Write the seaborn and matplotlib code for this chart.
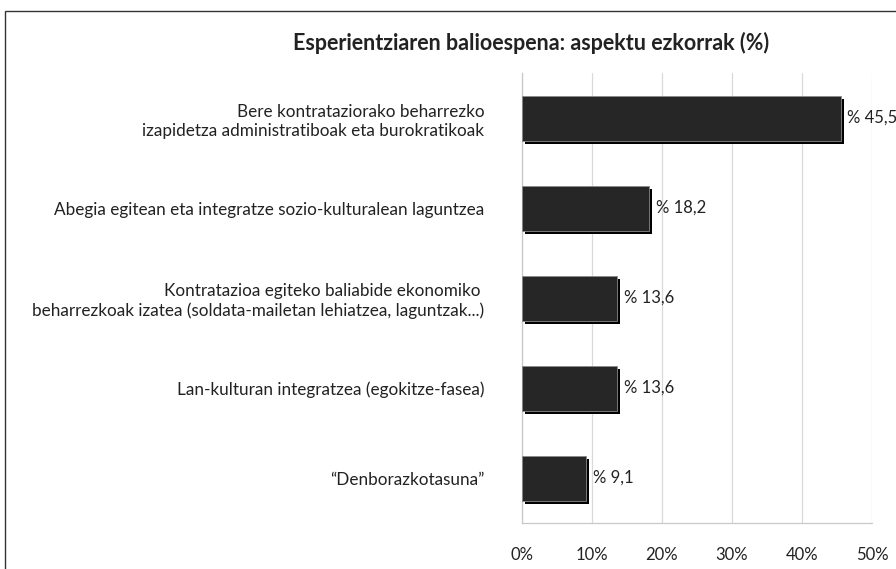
import matplotlib
matplotlib.use("Agg")
import matplotlib.pyplot as plt
import matplotlib.patheffects as pe
from matplotlib.patches import Rectangle
from matplotlib.ticker import FixedLocator, PercentFormatter
import seaborn as sns
import pandas as pd

title = "Esperientziaren balioespena: aspektu ezkorrak (%)"
categories = [
    "Bere kontratazio" "rako beharrezko\nizapidetza administratiboak eta burokratikoak",
    "Abegia egitean eta integratze sozio-kulturalean laguntzea",
    "Kontratazioa egiteko baliabide ekonomiko \nbeharrezkoak izatea (soldata-mailetan lehiatzea, laguntzak...)",
    "Lan-kulturan integratzea (egokitze-fasea)",
    "\u201cDenborazkotasuna\u201d",
]
values = [45.5, 18.2, 13.6, 13.6, 9.1]
value_labels = ["% 45,5", "% 18,2", "% 13,6", "% 13,6", "% 9,1"]
xticks = [0, 10, 20, 30, 40, 50]

sns.set_style("white")
plt.rcParams["font.family"] = ["Lato", "DejaVu Sans"]

df = pd.DataFrame({"cat": categories, "val": values})

fig = plt.figure(figsize=(8.96, 5.69), dpi=100)
ax = fig.add_axes([522/896, 1-523/569, 350/896, 450/569])

sns.barplot(data=df, x="val", y="cat", orient="h", color="#262626",
            width=0.5, ax=ax, edgecolor="#8a8a8a", linewidth=0.6,
            saturation=1)

for p in ax.patches:
    p.set_path_effects([pe.SimplePatchShadow(offset=(2.2, -2.2), shadow_rgbFace="black", alpha=1.0),
                        pe.Normal()])
    p.set_zorder(3)

ax.set_xlim(0, 50)
ax.set_ylim(len(categories) - 0.5, -0.5)
ax.xaxis.set_major_locator(FixedLocator(xticks))
ax.xaxis.set_major_formatter(PercentFormatter(decimals=0))
ax.grid(axis="x", color="#d9d9d9", linewidth=0.9, zorder=0)
ax.set_axisbelow(True)
ax.set_xlabel("")
ax.set_ylabel("")

for s in ["top", "right"]:
    ax.spines[s].set_visible(False)
for s in ["left", "bottom"]:
    ax.spines[s].set_color("#c8c8c8")
    ax.spines[s].set_linewidth(0.9)

ax.tick_params(axis="x", which="major", length=5, color="#c8c8c8", labelsize=12,
               labelcolor="#222222", pad=12)
ax.tick_params(axis="y", which="major", length=0, labelsize=12.3,
               labelcolor="#222222", pad=27)
ax.set_yticks([i + 0.5 for i in range(-1, len(categories))], minor=True)
ax.tick_params(axis="y", which="minor", length=5, color="#c8c8c8")
for lbl in ax.get_yticklabels():
    lbl.set_horizontalalignment("right")
    lbl.set_multialignment("right")
    lbl.set_linespacing(1.25)

for i, (v, t) in enumerate(zip(values, value_labels)):
    ax.annotate(t, xy=(v, i), xytext=(5, 0), textcoords="offset points",
                va="center", ha="left", fontsize=12, color="#222222",
                annotation_clip=False)

fig.text(531/896, 1-43/569, title, ha="center", va="center",
         fontsize=15.5, fontweight="bold", color="#222222")

fig.patches.append(Rectangle((5/896, -0.05), 1.1, 1-11/569 + 0.05,
                             transform=fig.transFigure, fill=False,
                             edgecolor="#333333", linewidth=1.0))

fig.savefig("out.png", dpi=100)
